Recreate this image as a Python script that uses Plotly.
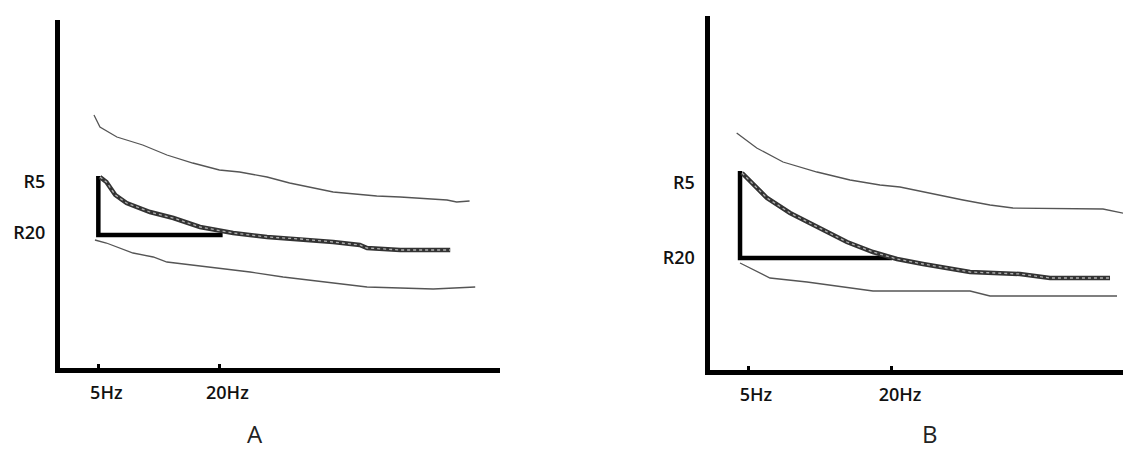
import plotly.graph_objects as go

W, H = 1131, 452
OFF = 8  # browser body margin around the plot div

# ---------------- Panel A data (x in Hz, y in resistance units) ----------------
a_upper_x = [4.46, 5.2, 7.3, 10.5, 13.5, 16.7, 20.0, 22.5, 25.9, 28.7, 34.1, 39.5, 42.4, 44.9, 48.2, 49.4, 51.0]
a_upper_y = [2.55, 2.43, 2.33, 2.25, 2.15, 2.07, 2.00, 1.98, 1.93, 1.87, 1.78, 1.74, 1.73, 1.72, 1.70, 1.68, 1.69]

a_mid_x = [5.2, 6.0, 7.1, 8.5, 11.4, 14.3, 17.6, 20.1, 21.7, 25.9, 30.0, 34.1, 37.4, 38.3, 42.4, 48.6]
a_mid_y = [1.93, 1.88, 1.75, 1.67, 1.58, 1.52, 1.43, 1.39, 1.37, 1.33, 1.31, 1.28, 1.25, 1.22, 1.20, 1.20]

a_low_x = [4.58, 6.0, 9.3, 11.8, 13.5, 19.7, 23.8, 27.9, 34.1, 38.3, 46.5, 50.6, 51.7]
a_low_y = [1.30, 1.27, 1.17, 1.13, 1.08, 1.02, 0.98, 0.93, 0.87, 0.83, 0.81, 0.82, 0.83]

a_tri_x = [5.0, 5.0, 20.4]
a_tri_y = [1.94, 1.35, 1.35]

a_ytick_vals = [1.88, 1.37]

# ---------------- Panel B data ----------------
b_upper_x = [3.82, 5.91, 8.65, 12.19, 15.63, 18.75, 20.83, 23.23, 27.40, 30.21, 32.60, 41.98, 44.48]
b_upper_y = [2.39, 2.24, 2.10, 2.00, 1.92, 1.87, 1.85, 1.80, 1.72, 1.67, 1.64, 1.63, 1.58]

b_mid_x = [4.38, 6.98, 9.38, 12.19, 15.31, 18.02, 20.52, 23.23, 28.13, 33.33, 36.46, 42.71]
b_mid_y = [1.99, 1.74, 1.59, 1.45, 1.30, 1.20, 1.13, 1.08, 1.00, 0.98, 0.94, 0.94]

b_low_x = [4.17, 7.29, 11.15, 18.02, 28.13, 30.21, 43.44]
b_low_y = [1.09, 0.94, 0.90, 0.81, 0.81, 0.76, 0.76]

b_tri_x = [4.17, 4.17, 20.0]
b_tri_y = [2.01, 1.14, 1.14]

b_ytick_vals = [1.89, 1.14]

x_tick_vals = [5, 20]
x_tick_text = ["5Hz", "20Hz"]
y_tick_text = ["R5", "R20"]
panel_labels = ["A", "B"]

fig = go.Figure()

def add_panel(xa, ya, ux, uy, mx, my, lx, ly, tx, ty):
    thin = dict(color="#555555", width=1.3)
    fig.add_trace(go.Scatter(x=ux, y=uy, mode="lines", line=thin, xaxis=xa, yaxis=ya, showlegend=False))
    fig.add_trace(go.Scatter(x=lx, y=ly, mode="lines", line=thin, xaxis=xa, yaxis=ya, showlegend=False))
    fig.add_trace(go.Scatter(x=tx, y=ty, mode="lines", line=dict(color="black", width=4.5),
                             xaxis=xa, yaxis=ya, showlegend=False))
    fig.add_trace(go.Scatter(x=mx, y=my, mode="lines", line=dict(color="#333333", width=4.5),
                             xaxis=xa, yaxis=ya, showlegend=False))
    fig.add_trace(go.Scatter(x=mx, y=my, mode="lines", line=dict(color="#b0b0b0", width=1.3, dash="dot"),
                             xaxis=xa, yaxis=ya, showlegend=False))

add_panel("x", "y", a_upper_x, a_upper_y, a_mid_x, a_mid_y, a_low_x, a_low_y, a_tri_x, a_tri_y)
add_panel("x2", "y2", b_upper_x, b_upper_y, b_mid_x, b_mid_y, b_low_x, b_low_y, b_tri_x, b_tri_y)

tick_font = dict(family="Open Sans", size=18, color="#111111", weight=600)

def px_x(p):
    return (p - OFF) / W

def px_y(p):
    return 1 - (p - OFF) / H

def xaxis_cfg(domain, rng, anchor):
    return dict(domain=domain, range=rng, anchor=anchor, automargin=False,
                showgrid=False, zeroline=False,
                showline=True, linecolor="black", linewidth=5,
                tickmode="array", tickvals=x_tick_vals, ticktext=x_tick_text,
                ticks="inside", ticklen=4, tickwidth=3, tickcolor="black",
                tickfont=tick_font, ticklabelshift=8, ticklabelstandoff=4,
                fixedrange=True)

def yaxis_cfg(domain, rng, vals, anchor):
    return dict(domain=domain, range=rng, anchor=anchor, automargin=False,
                showgrid=False, zeroline=False,
                showline=True, linecolor="black", linewidth=5,
                tickmode="array", tickvals=vals, ticktext=y_tick_text,
                ticks="", tickfont=tick_font, ticklabelstandoff=6,
                fixedrange=True)

fig.update_layout(
    width=W, height=H,
    margin=dict(l=0, r=0, t=0, b=0),
    paper_bgcolor="white", plot_bgcolor="white",
    xaxis=xaxis_cfg([px_x(60), px_x(500)], [0.25, 54.77], "y"),
    yaxis=yaxis_cfg([px_y(368), px_y(20)], [0.02, 3.5], a_ytick_vals, "x"),
    xaxis2=xaxis_cfg([px_x(709.5), 1.0], [0.99, 45.73], "y2"),
    yaxis2=yaxis_cfg([px_y(370), px_y(16)], [0.02, 3.56], b_ytick_vals, "x2"),
    annotations=[
        dict(text=panel_labels[0], x=px_x(245), y=1 - 444 / H, xref="paper", yref="paper",
             showarrow=False, font=dict(family="Open Sans", size=24, color="#222222")),
        dict(text=panel_labels[1], x=px_x(940), y=1 - 444 / H, xref="paper", yref="paper",
             showarrow=False, font=dict(family="Open Sans", size=24, color="#222222")),
    ],
)

fig.write_html("out.html")
